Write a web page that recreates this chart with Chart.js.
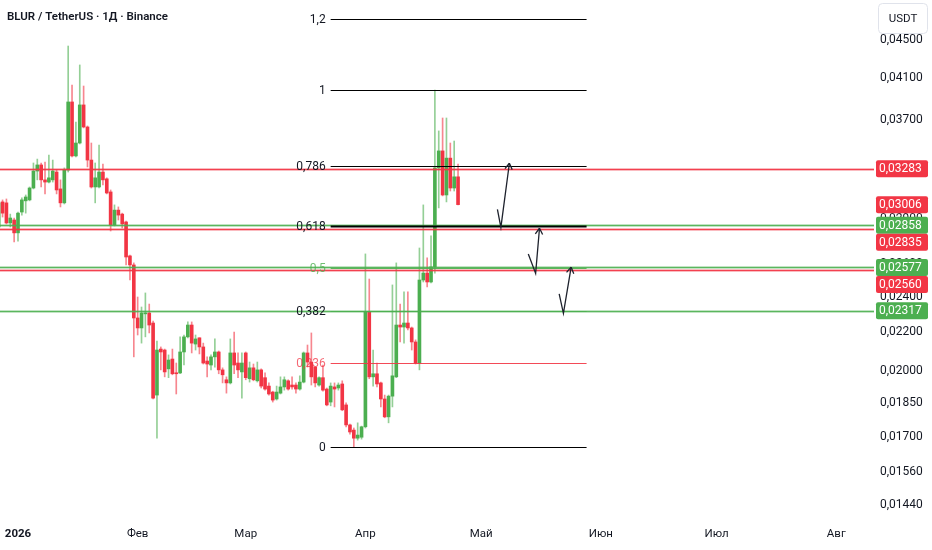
<!DOCTYPE html>
<html>
<head>
<meta charset="utf-8">
<script src="https://cdn.jsdelivr.net/npm/chart.js@4.4.1/dist/chart.umd.min.js"></script>
<style>
  html, body { margin: 0; padding: 0; background: #fff; }
  #wrap { width: 932px; height: 550px; position: relative; }
</style>
</head>
<body>
<div id="wrap"><canvas id="chart"></canvas></div>
<script>
// Daily candles, day number counted from 1 Jan 2026 (first candle is 27 Dec 2025)
const firstDay = -5;
const opens = [
  0.02846, 0.03026, 0.03019, 0.02874, 0.02895, 0.02805, 0.02952, 0.03034, 0.03041, 0.03131,
  0.03264, 0.03313, 0.03194, 0.03177, 0.03194, 0.03256, 0.03124, 0.03019, 0.03272, 0.03866,
  0.03387, 0.03496, 0.03838, 0.03636, 0.03353, 0.03139, 0.03139, 0.03256, 0.03202, 0.03101,
  0.02860, 0.02966, 0.02937, 0.02881, 0.02651, 0.02593, 0.02277, 0.02222, 0.02300, 0.02305,
  0.02249, 0.01885, 0.02110, 0.02105, 0.02010, 0.02059, 0.01990, 0.01990, 0.02095, 0.02174,
  0.02238, 0.02136, 0.02169, 0.02121, 0.02049, 0.02029, 0.02070, 0.02095, 0.02005, 0.01957,
  0.01942, 0.02090, 0.02039, 0.01995, 0.02090, 0.01962, 0.02015, 0.01952, 0.02005, 0.01967,
  0.01927, 0.01899, 0.01867, 0.01894, 0.01923, 0.01952, 0.01932, 0.01932, 0.01913, 0.01946,
  0.02090, 0.02044, 0.02019, 0.01932, 0.01967, 0.01913, 0.01853, 0.01923, 0.01918, 0.01937,
  0.01840, 0.01752, 0.01730, 0.01696, 0.01700, 0.01744, 0.02311, 0.01971, 0.01986, 0.01942,
  0.01867, 0.01787, 0.01880, 0.01971, 0.02238, 0.02227, 0.02249, 0.02222, 0.02147, 0.02039,
  0.02499, 0.02542, 0.02487, 0.02581, 0.03289, 0.03429, 0.03078, 0.03369, 0.03131, 0.03218
];
const highs = [
  0.03034, 0.03041, 0.03048, 0.02937, 0.02909, 0.02952, 0.03056, 0.03078, 0.03139, 0.03329,
  0.03361, 0.03329, 0.03337, 0.03395, 0.03353, 0.03272, 0.03194, 0.03289, 0.04434, 0.04030,
  0.03681, 0.04233, 0.04020, 0.03645, 0.03496, 0.03329, 0.03479, 0.03321, 0.03210, 0.03116,
  0.03004, 0.02989, 0.02944, 0.02888, 0.02657, 0.02606, 0.02397, 0.02339, 0.02421, 0.02356,
  0.02260, 0.02152, 0.02121, 0.02110, 0.02080, 0.02110, 0.02039, 0.02174, 0.02184, 0.02255,
  0.02255, 0.02184, 0.02169, 0.02141, 0.02070, 0.02080, 0.02163, 0.02100, 0.02015, 0.01971,
  0.02163, 0.02200, 0.02090, 0.02090, 0.02095, 0.02044, 0.02034, 0.02044, 0.02010, 0.01990,
  0.01942, 0.01903, 0.01927, 0.01971, 0.01971, 0.01957, 0.01971, 0.01942, 0.01976, 0.02095,
  0.02131, 0.02195, 0.02019, 0.01971, 0.02029, 0.01918, 0.01942, 0.01942, 0.01942, 0.01952,
  0.01849, 0.01756, 0.01739, 0.01761, 0.01747, 0.02664, 0.02505, 0.02105, 0.02039, 0.01946,
  0.01885, 0.01885, 0.02469, 0.02606, 0.02356, 0.02427, 0.02427, 0.02227, 0.02158, 0.02703,
  0.03004, 0.02638, 0.02784, 0.03981, 0.03601, 0.03717, 0.03717, 0.03496, 0.03513, 0.03321
];
const lows = [
  0.02832, 0.02916, 0.02867, 0.02846, 0.02743, 0.02749, 0.02930, 0.02944, 0.03034, 0.03124,
  0.03194, 0.03139, 0.03086, 0.03170, 0.03177, 0.03086, 0.02989, 0.03011, 0.03256, 0.03378,
  0.03378, 0.03488, 0.03628, 0.03297, 0.03131, 0.03019, 0.03131, 0.03154, 0.03086, 0.02818,
  0.02853, 0.02895, 0.02839, 0.02593, 0.02499, 0.02070, 0.02184, 0.02141, 0.02174, 0.02195,
  0.01867, 0.01696, 0.02005, 0.01971, 0.01967, 0.01981, 0.01890, 0.01986, 0.02029, 0.02169,
  0.02090, 0.02105, 0.02085, 0.02034, 0.01971, 0.02005, 0.02019, 0.01986, 0.01942, 0.01894,
  0.01937, 0.01986, 0.01967, 0.01871, 0.01957, 0.01946, 0.01952, 0.01946, 0.01918, 0.01908,
  0.01885, 0.01853, 0.01862, 0.01890, 0.01908, 0.01908, 0.01913, 0.01894, 0.01908, 0.01942,
  0.02019, 0.01932, 0.01923, 0.01927, 0.01903, 0.01836, 0.01836, 0.01831, 0.01908, 0.01814,
  0.01744, 0.01713, 0.01660, 0.01688, 0.01692, 0.01739, 0.01962, 0.01927, 0.01923, 0.01831,
  0.01783, 0.01761, 0.01831, 0.01967, 0.02147, 0.02141, 0.02211, 0.02105, 0.02034, 0.02005,
  0.02487, 0.02457, 0.02481, 0.02542, 0.02982, 0.03071, 0.03026, 0.03108, 0.03108, 0.03004
];
const closes = [
  0.03019, 0.02944, 0.02874, 0.02909, 0.02805, 0.02944, 0.03041, 0.03063, 0.03131, 0.03264,
  0.03313, 0.03194, 0.03177, 0.03210, 0.03264, 0.03116, 0.03019, 0.03272, 0.03866, 0.03387,
  0.03496, 0.03838, 0.03636, 0.03353, 0.03139, 0.03210, 0.03256, 0.03194, 0.03093, 0.02860,
  0.02966, 0.02930, 0.02867, 0.02644, 0.02593, 0.02277, 0.02222, 0.02305, 0.02305, 0.02238,
  0.01871, 0.02105, 0.02095, 0.01995, 0.02054, 0.01986, 0.01986, 0.02095, 0.02174, 0.02238,
  0.02141, 0.02163, 0.02121, 0.02039, 0.02034, 0.02070, 0.02095, 0.02005, 0.01981, 0.01942,
  0.02090, 0.02029, 0.02005, 0.02039, 0.01967, 0.02015, 0.01957, 0.02005, 0.01927, 0.01913,
  0.01890, 0.01862, 0.01899, 0.01923, 0.01957, 0.01913, 0.01923, 0.01913, 0.01946, 0.02090,
  0.02044, 0.01971, 0.01942, 0.01967, 0.01908, 0.01840, 0.01927, 0.01913, 0.01932, 0.01818,
  0.01752, 0.01722, 0.01696, 0.01709, 0.01744, 0.02311, 0.01971, 0.01986, 0.01937, 0.01867,
  0.01787, 0.01880, 0.01976, 0.02238, 0.02227, 0.02249, 0.02222, 0.02147, 0.02039, 0.02499,
  0.02542, 0.02487, 0.02581, 0.03289, 0.03429, 0.03078, 0.03369, 0.03131, 0.03218, 0.03006
];

// Axis ticks
const monthDays = [0, 31, 59, 90, 120, 151, 181, 212];
const monthLabels = ['2026', 'Фев', 'Мар', 'Апр', 'Май', 'Июн', 'Июл', 'Авг'];
const priceTicks = [0.045, 0.041, 0.037, 0.033, 0.029, 0.026, 0.024, 0.022, 0.020, 0.0185, 0.017, 0.0156, 0.0144];

// Fibonacci retracement (low of 25 Mar -> high of 18 Apr)
const fibLow = 0.01660;
const fibHigh = 0.03981;
const fibFromDay = 81;
const fibToDay = 147.3;
const fibLevels = [0, 0.236, 0.382, 0.5, 0.618, 0.786, 1, 1.2];
const fibKinds = ['black', 'red', 'green', 'green', 'black', 'black', 'black', 'black'];

// Horizontal levels with their price labels
const levelPrices = [0.03283, 0.02858, 0.02835, 0.02577, 0.02560, 0.02317];
const levelKinds = ['red', 'green', 'red', 'green', 'red', 'green'];
const lastPrice = 0.03006;

// Hand drawn arrows: day / price of each vertex, the arrow head is on the last one
const arrowDays = [[124.2, 125.1, 127.3], [132.2, 134.1, 135.1], [140.2, 141.3, 143.3]];
const arrowPrices = [[0.02971, 0.02843, 0.03327], [0.02664, 0.02540, 0.02837], [0.02415, 0.02303, 0.02579]];

const GREEN = '#4caf50';
const RED = '#f23645';
const TEXT = '#131722';
const FONT = 'Roboto, "Noto Sans", sans-serif';

const days = opens.map((_, i) => firstDay + i);
const isUp = i => closes[i] >= opens[i];

function fmtPrice(v) {
    return v.toFixed(5).replace('.', ',');
}

function fibPrice(level) {
    const a = Math.log(fibLow), b = Math.log(fibHigh);
    return Math.exp(a + (b - a) * level);
}

const overlay = {
    id: 'overlay',
    afterDatasetsDraw(chart) {
        const ctx = chart.ctx;
        const xs = chart.scales.x, ys = chart.scales.y;
        const area = chart.chartArea;

        ctx.save();

        // full width levels: a soft band with a sharper core
        levelPrices.forEach((p, i) => {
            const y = Math.round(ys.getPixelForValue(p)) + 0.5;
            const red = levelKinds[i] === 'red';
            ctx.strokeStyle = red ? 'rgba(242,54,69,0.45)' : 'rgba(76,175,80,0.45)';
            ctx.lineWidth = 2.5;
            ctx.beginPath();
            ctx.moveTo(area.left, y);
            ctx.lineTo(area.right, y);
            ctx.stroke();
            ctx.strokeStyle = red ? 'rgba(242,54,69,0.9)' : 'rgba(76,175,80,0.85)';
            ctx.lineWidth = 1;
            ctx.beginPath();
            ctx.moveTo(area.left, y);
            ctx.lineTo(area.right, y);
            ctx.stroke();
        });

        // fibonacci lines and labels
        const fx0 = xs.getPixelForValue(fibFromDay);
        const fx1 = xs.getPixelForValue(fibToDay);
        ctx.font = '12px ' + FONT;
        ctx.textAlign = 'right';
        ctx.textBaseline = 'middle';
        fibLevels.forEach((lvl, i) => {
            const y = Math.round(ys.getPixelForValue(fibPrice(lvl))) + 0.5;
            let stroke = '#000', txt = TEXT;
            if (fibKinds[i] === 'red') { stroke = 'rgba(242,54,69,0.9)'; txt = 'rgba(242,54,69,0.75)'; }
            if (fibKinds[i] === 'green') { stroke = 'rgba(76,175,80,0.9)'; txt = 'rgba(76,175,80,0.8)'; }
            if (lvl === 0.382) txt = TEXT;
            ctx.strokeStyle = stroke;
            ctx.lineWidth = lvl === 0.618 ? 2 : 1;
            ctx.beginPath();
            ctx.moveTo(fx0, y);
            ctx.lineTo(fx1, y);
            ctx.stroke();
            ctx.fillStyle = txt;
            ctx.fillText(String(lvl).replace('.', ','), fx0 - 5, y);
        });

        // arrows
        ctx.strokeStyle = '#1e222d';
        ctx.lineWidth = 1.3;
        arrowDays.forEach((dArr, k) => {
            const pts = dArr.map((d, j) => [xs.getPixelForValue(d), ys.getPixelForValue(arrowPrices[k][j])]);
            ctx.beginPath();
            pts.forEach((pt, j) => j ? ctx.lineTo(pt[0], pt[1]) : ctx.moveTo(pt[0], pt[1]));
            ctx.stroke();
            const [tx, ty] = pts[pts.length - 1];
            const [px, py] = pts[pts.length - 2];
            const ang = Math.atan2(ty - py, tx - px);
            ctx.beginPath();
            [-0.55, 0.55].forEach(da => {
                ctx.moveTo(tx, ty);
                ctx.lineTo(tx - 7 * Math.cos(ang + da), ty - 7 * Math.sin(ang + da));
            });
            ctx.stroke();
        });

        // price labels on the axis, pushed apart so they do not overlap
        const labels = levelPrices.map((p, i) => ({ p, kind: levelKinds[i] }));
        labels.push({ p: lastPrice, kind: 'red' });
        labels.sort((a, b) => b.p - a.p);
        let prev = -100;
        ctx.font = '12px ' + FONT;
        ctx.textAlign = 'left';
        labels.forEach(l => {
            let y = ys.getPixelForValue(l.p);
            if (y < prev + 17) y = prev + 17;
            prev = y;
            ctx.fillStyle = l.kind === 'red' ? RED : GREEN;
            ctx.beginPath();
            ctx.roundRect(area.right + 2, y - 8.5, 52, 17, 2);
            ctx.fill();
            ctx.fillStyle = '#fff';
            ctx.fillText(fmtPrice(l.p), area.right + 5, y + 0.5);
        });

        // currency box
        ctx.fillStyle = '#fff';
        ctx.strokeStyle = '#e0e3eb';
        ctx.lineWidth = 1;
        ctx.beginPath();
        ctx.roundRect(878.5, 3.5, 49, 30, 4);
        ctx.fill();
        ctx.stroke();
        ctx.fillStyle = TEXT;
        ctx.textAlign = 'center';
        ctx.font = '11.5px ' + FONT;
        ctx.fillText('USDT', 903, 19);

        // title
        ctx.textAlign = 'left';
        ctx.font = '600 11.5px ' + FONT;
        ctx.fillText('BLUR / TetherUS · 1Д · Binance', 7, 17);

        ctx.restore();
    }
};

new Chart(document.getElementById('chart'), {
    type: 'bar',
    data: {
        datasets: [
            {
                label: 'wicks',
                data: days.map((d, i) => ({ x: d, y: [lows[i], highs[i]] })),
                backgroundColor: ctx => isUp(ctx.dataIndex) ? 'rgba(76,175,80,0.6)' : 'rgba(242,54,69,0.6)',
                barThickness: 1,
                grouped: false,
                minBarLength: 1
            },
            {
                label: 'bodies',
                data: days.map((d, i) => ({ x: d, y: [opens[i], closes[i]] })),
                backgroundColor: ctx => isUp(ctx.dataIndex) ? GREEN : RED,
                barThickness: 3,
                grouped: false,
                minBarLength: 1
            }
        ]
    },
    options: {
        responsive: true,
        maintainAspectRatio: false,
        animation: false,
        layout: { padding: 0 },
        plugins: {
            legend: { display: false },
            tooltip: { enabled: false }
        },
        scales: {
            x: {
                type: 'linear',
                offset: false,
                bounds: 'data',
                min: -4.663,
                max: 221.76,
                grid: { display: false, drawTicks: false },
                border: { display: false },
                afterBuildTicks: s => { s.ticks = monthDays.map(v => ({ value: v })); },
                afterFit: s => { s.height = 32; s.paddingLeft = 0; s.paddingRight = 0; },
                ticks: {
                    autoSkip: false,
                    maxRotation: 0,
                    padding: 9,
                    color: TEXT,
                    font: ctx => ({ family: FONT, size: 11.5, weight: ctx.index === 0 ? 'bold' : 'normal' }),
                    callback: (v, i) => monthLabels[i]
                }
            },
            y: {
                type: 'logarithmic',
                position: 'right',
                bounds: 'data',
                min: 0.013947,
                max: 0.049633,
                grid: { display: false, drawTicks: false },
                border: { display: false },
                afterBuildTicks: s => { s.ticks = priceTicks.map(v => ({ value: v })); },
                afterFit: s => { s.width = 58; s.paddingTop = 0; s.paddingBottom = 0; },
                ticks: {
                    padding: 6,
                    color: TEXT,
                    font: { family: FONT, size: 12 },
                    callback: v => fmtPrice(v)
                }
            }
        }
    },
    plugins: [overlay]
});
</script>
</body>
</html>
